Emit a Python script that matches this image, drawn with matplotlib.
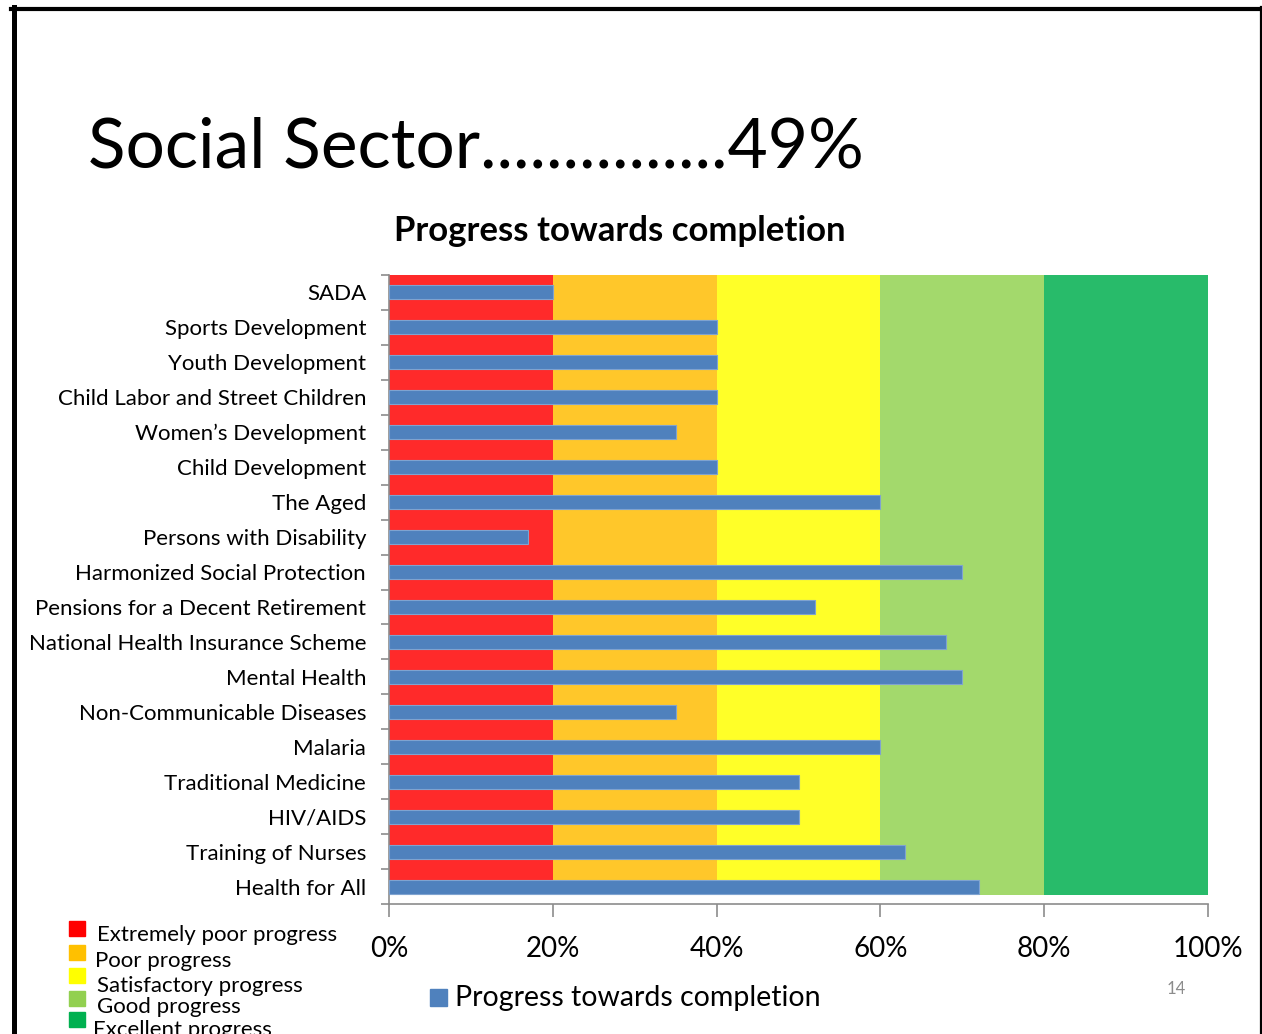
import matplotlib
matplotlib.use("Agg")
import matplotlib.pyplot as plt
from matplotlib.patches import Rectangle
from matplotlib.lines import Line2D
import numpy as np

plt.rcParams['font.family'] = ['Lato', 'DejaVu Sans']

# ---- data ----
categories = [
    "SADA", "Sports Development", "Youth Development",
    "Child Labor and Street Children", "Women\u2019s Development",
    "Child Development", "The Aged", "Persons with Disability",
    "Harmonized Social Protection", "Pensions for a Decent Retirement",
    "National Health Insurance Scheme", "Mental Health",
    "Non-Communicable Diseases", "Malaria", "Traditional Medicine",
    "HIV/AIDS", "Training of Nurses", "Health for All",
]
progress = [20, 40, 40, 40, 35, 40, 60, 17, 70, 52, 68, 70, 35, 60, 50, 50, 63, 72]

band_edges = [0, 20, 40, 60, 80, 100]
band_colors = ["#FF2A2A", "#FFC72A", "#FFFF28", "#A3D96C", "#28BB6A"]
band_labels = ["Extremely poor progress", "Poor progress",
               "Satisfactory progress", "Good progress", "Excellent progress"]
legend_colors = ["#FF0000", "#FFC000", "#FFFF00", "#92D050", "#00B050"]
xticks = [0, 20, 40, 60, 80, 100]
xtick_labels = ["0%", "20%", "40%", "60%", "80%", "100%"]

W, H = 1262, 1034
fig = plt.figure(figsize=(W / 100, H / 100), dpi=100)
fig.patch.set_facecolor("white")


def fx(px):
    return px / W


def fy(py):
    return 1 - py / H


# ---- chart area ----
ax_left, ax_right, ax_top, ax_bottom = 389, 1208, 275, 904
ax = fig.add_axes([fx(ax_left), fy(ax_bottom), fx(ax_right - ax_left),
                   (ax_bottom - ax_top) / H])

n = len(categories)
ypos = np.arange(n)[::-1]
ax.set_ylim(-0.5, n - 0.5)
ax.set_xlim(0, 100)

band_ymin = (ax_bottom - 895) / (ax_bottom - ax_top)
for i, c in enumerate(band_colors):
    ax.axvspan(band_edges[i], band_edges[i + 1], ymin=band_ymin, ymax=1,
               color=c, lw=0, zorder=1)

ax.barh(ypos, progress, height=0.4, color="#4F81BD", edgecolor="#7FA3D0",
        linewidth=0.8, zorder=3)

for s in ["top", "right"]:
    ax.spines[s].set_visible(False)
for s in ["left", "bottom"]:
    ax.spines[s].set_color("#8C8C8C")
    ax.spines[s].set_linewidth(1.2)

ax.set_xticks(xticks)
ax.set_xticklabels(xtick_labels, fontsize=20)
ax.tick_params(axis="x", direction="out", length=9, width=1.2,
               color="#8C8C8C", pad=14)

ax.set_yticks(np.arange(-0.5, n, 1.0))
ax.set_yticklabels([])
ax.tick_params(axis="y", which="major", direction="out", length=6,
               width=1.2, color="#8C8C8C")
ax.set_yticks(ypos, minor=True)
ax.set_yticklabels(categories, minor=True, fontsize=16)
ax.tick_params(axis="y", which="minor", length=0, pad=16.5)

# ---- headings ----
fig.text(fx(88), fy(167), "Social Sector...............49%", fontsize=50,
         ha="left", va="baseline", color="black")
fig.text(fx(620), fy(231), "Progress towards completion", fontsize=25,
         fontweight="bold", ha="center", va="center", color="black")

# ---- series legend ----
fig.patches.append(Rectangle((fx(430), fy(1006)), fx(17), 17 / H,
                             transform=fig.transFigure, color="#4F81BD"))
fig.text(fx(455), fy(998), "Progress towards completion", fontsize=20.5,
         ha="left", va="center", color="black")

# ---- band legend ----
sq_y = [921, 945, 968, 991, 1012]
txt_y = [935, 961, 986, 1007, 1030]
txt_x = [97, 95, 97, 97, 93]
for c, lab, sy, ty, tx in zip(legend_colors, band_labels, sq_y, txt_y, txt_x):
    fig.patches.append(Rectangle((fx(69), fy(sy + 15)), fx(16), 15 / H,
                                 transform=fig.transFigure, color=c))
    fig.text(fx(tx), fy(ty), lab, fontsize=16, ha="left", va="center",
             color="black")

fig.text(fx(1176), fy(989), "14", fontsize=12, ha="center", va="center",
         color="#8C8C8C")

# ---- slide frame ----
fig.add_artist(Line2D([fx(13.5), fx(13.5)], [fy(7), fy(H + 5)],
                      transform=fig.transFigure, color="black", lw=3.6))
fig.add_artist(Line2D([fx(11), fx(W)], [fy(9), fy(9)],
                      transform=fig.transFigure, color="black", lw=3.0))
fig.add_artist(Line2D([fx(1260.5), fx(1260.5)], [fy(7), fy(H + 5)],
                      transform=fig.transFigure, color="black", lw=1.6))

fig.savefig("out.png", dpi=100, facecolor="white")
